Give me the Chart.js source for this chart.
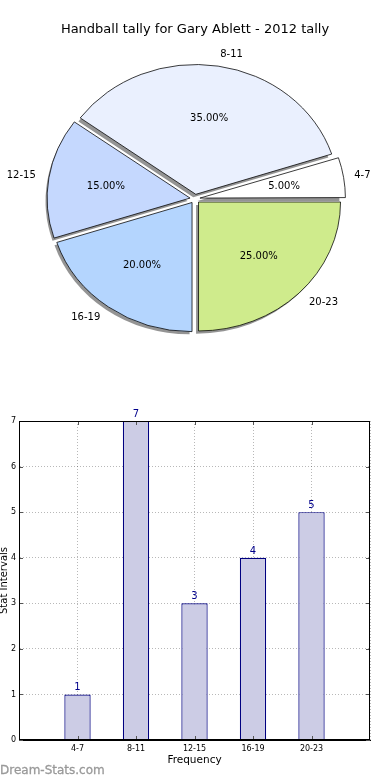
<!DOCTYPE html>
<html><head><meta charset="utf-8">
<script src="https://cdn.jsdelivr.net/npm/chart.js@4.4.0/dist/chart.umd.min.js"></script>
<style>
html,body{margin:0;padding:0;background:#fff;width:390px;height:780px;overflow:hidden;position:relative;font-family:"DejaVu Sans",sans-serif;}
#pieWrap{position:absolute;left:0;top:0;width:390px;height:400px;}
#barWrap{position:absolute;left:0;top:400px;width:390px;height:380px;}
#wm{position:absolute;left:0;top:762px;font-size:12px;line-height:16px;color:#999;font-family:"DejaVu Sans",sans-serif;-webkit-text-stroke:0.3px #999;}
</style></head>
<body>
<div id="pieWrap"><canvas id="pie" width="390" height="400"></canvas></div>
<div id="barWrap"><canvas id="bar" width="390" height="380"></canvas></div>
<div id="wm">Dream-Stats.com</div>
<script>
const chartTitle = 'Handball tally for Gary Ablett - 2012 tally';
const categories = ['4-7', '8-11', '12-15', '16-19', '20-23'];
const tallies = [1, 7, 3, 4, 5];
const sliceColors = ['#ffffff', '#eaf0fe', '#c5d8fe', '#b4d5fe', '#cfeb8c'];
const yTicks = [0, 1, 2, 3, 4, 5, 6, 7];
const xAxisTitle = 'Frequency';
const yAxisTitle = 'Stat Intervals';

Chart.defaults.font.family = '"DejaVu Sans", sans-serif';
Chart.defaults.color = '#000';

const SY = 0.908;
const ellipsePlugin = {
  id: 'ellipse',
  beforeDatasetsDraw(chart) {
    const arcs = chart.getDatasetMeta(0).data;
    const ctx = chart.ctx;
    ctx.save();
    ctx.translate(0, arcs[0].y);
    ctx.scale(1, SY);
    ctx.translate(0, -arcs[0].y);
    // shadows (drawn under the wedges)
    ctx.save();
    ctx.fillStyle = 'rgba(60,60,60,0.55)';
    arcs.forEach(arc => {
      const a = (arc.startAngle + arc.endAngle) / 2;
      const off = (arc.options.offset || 0) / 4;
      const cx = arc.x + Math.cos(a) * off - 2.5;
      const cy = arc.y + Math.sin(a) * off + 3.2;
      ctx.beginPath();
      ctx.moveTo(cx, cy);
      ctx.arc(cx, cy, arc.outerRadius, arc.startAngle, arc.endAngle);
      ctx.closePath();
      ctx.fill();
    });
    ctx.restore();
  },
  afterDatasetsDraw(chart) { chart.ctx.restore(); }
};
const pieLabelPlugin = {
  id: 'pieLabels',
  afterDatasetsDraw(chart) {
    const ctx = chart.ctx;
    const meta = chart.getDatasetMeta(0);
    const vals = chart.data.datasets[0].data;
    const labels = chart.data.labels;
    const total = vals.reduce((a, b) => a + b, 0);
    ctx.save();
    ctx.font = '10px "DejaVu Sans"';
    ctx.fillStyle = '#000';
    ctx.textBaseline = 'middle';
    meta.data.forEach((arc, i) => {
      const a = (arc.startAngle + arc.endAngle) / 2;
      const r = arc.outerRadius;
      const off = (arc.options.offset || 0) / 4;
      const cx = arc.x + Math.cos(a) * off;
      const dy = Math.sin(a) * off;
      const px = cx + Math.cos(a) * r * 0.6;
      const py = arc.y + (dy + Math.sin(a) * r * 0.6) * SY;
      ctx.textAlign = 'center';
      ctx.fillText((vals[i] / total * 100).toFixed(2) + '%', px, py);
      const lx = cx + Math.cos(a) * r * 1.1;
      const ly = arc.y + (dy + Math.sin(a) * r * 1.1) * SY;
      ctx.textAlign = Math.cos(a) > 0 ? 'left' : 'right';
      ctx.fillText(labels[i], lx, ly);
    });
    ctx.restore();
  }
};

const order = categories.map((c, i) => i).reverse();
new Chart(document.getElementById('pie'), {
  type: 'pie',
  data: {
    labels: order.map(i => categories[i]),
    datasets: [{
      data: order.map(i => tallies[i]),
      backgroundColor: order.map(i => sliceColors[i]),
      borderColor: '#000',
      borderWidth: 0.8,
      offset: 20,
      clip: false
    }]
  },
  options: {
    responsive: false, animation: false, events: [],
    rotation: 90, radius: 142,
    layout: { padding: { bottom: 40 } },
    plugins: {
      legend: { display: false }, tooltip: { enabled: false },
      title: { display: true, text: chartTitle, color: '#000',
        font: { size: 13, weight: 'normal' }, padding: { top: 22, bottom: 0 } }
    }
  },
  plugins: [ellipsePlugin, pieLabelPlugin]
});

const framePlugin = {
  id: 'frame',
  afterDraw(chart) {
    const a = chart.chartArea, ctx = chart.ctx;
    const xs = chart.scales.x, ys = chart.scales.y;
    ctx.save();
    // small inward tick marks on all four sides
    ctx.strokeStyle = '#555'; ctx.lineWidth = 1;
    ctx.beginPath();
    xs.ticks.forEach((t, i) => {
      if (!chart.data.labels[i]) return;
      const x = Math.round(xs.getPixelForTick(i)) + 0.5;
      ctx.moveTo(x, a.bottom); ctx.lineTo(x, a.bottom - 4);
      ctx.moveTo(x, a.top); ctx.lineTo(x, a.top + 4);
    });
    ys.ticks.forEach(t => {
      const y = Math.round(ys.getPixelForValue(t.value)) + 0.5;
      ctx.moveTo(a.left, y); ctx.lineTo(a.left + 4, y);
      ctx.moveTo(a.right, y); ctx.lineTo(a.right - 4, y);
    });
    ctx.stroke();
    ctx.strokeStyle = '#000'; ctx.lineWidth = 1;
    ctx.strokeRect(Math.round(a.left) + 0.5, Math.round(a.top) + 0.5,
      Math.round(a.right - a.left) - 1, Math.round(a.bottom - a.top) - 1);
    ctx.restore();
  }
};
const valuePlugin = {
  id: 'values',
  afterDatasetsDraw(chart) {
    const ctx = chart.ctx;
    const vals = chart.data.datasets[0].data;
    ctx.save();
    ctx.font = '10px "DejaVu Sans"';
    ctx.fillStyle = '#00008b';
    ctx.textAlign = 'center';
    ctx.textBaseline = 'alphabetic';
    chart.getDatasetMeta(0).data.forEach((b, i) => {
      if (vals[i] == null) return;
      ctx.fillText(String(vals[i]), b.x, b.y - 4);
    });
    ctx.restore();
  }
};

const padLabels = ['', ...categories, ''];
const padValues = [null, ...tallies, null];
const gridColor = 'rgba(0,0,0,0.28)';
new Chart(document.getElementById('bar'), {
  type: 'bar',
  data: {
    labels: padLabels,
    datasets: [{
      data: padValues,
      backgroundColor: '#ccccE5',
      borderColor: '#000080',
      borderWidth: 1.2,
      barPercentage: 0.5,
      categoryPercentage: 0.9
    }]
  },
  options: {
    responsive: false, animation: false, events: [],
    layout: { padding: { top: 21, right: 20, left: 0, bottom: 0 } },
    plugins: { legend: { display: false }, tooltip: { enabled: false } },
    scales: {
      x: {
        offset: false,
        grid: { color: gridColor, drawTicks: false, lineWidth: 1, offset: false },
        border: { display: true, color: '#000', width: 1, dash: [1, 2] },
        ticks: { font: { size: 8 }, color: '#000', padding: 4, autoSkip: false, maxRotation: 0 },
        title: { display: true, text: xAxisTitle, color: '#000', font: { size: 10.5 }, padding: { top: 0, bottom: 13 } },
        afterFit(s) { s.height = 40; }
      },
      y: {
        min: yTicks[0], max: yTicks[yTicks.length - 1],
        afterBuildTicks(s) { s.ticks = yTicks.map(v => ({ value: v })); },
        grid: { color: gridColor, drawTicks: false, lineWidth: 1 },
        border: { display: true, color: '#000', width: 1, dash: [1, 2] },
        ticks: { font: { size: 8 }, color: '#000', padding: 3 },
        title: { display: true, text: yAxisTitle, color: '#000', font: { size: 10 }, padding: { top: -2, bottom: 0 } },
        afterFit(s) { s.width = 19; }
      }
    }
  },
  plugins: [framePlugin, valuePlugin]
});
</script>
</body></html>
